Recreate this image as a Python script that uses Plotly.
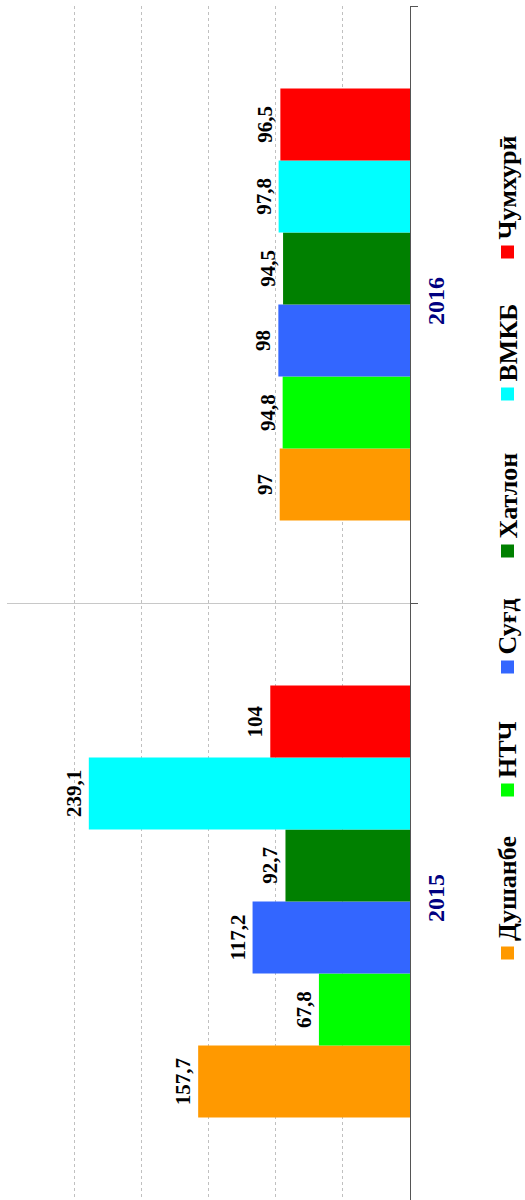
import plotly.graph_objects as go

# data
years = ["2015", "2016"]
regions = ["Душанбе", "НТЧ", "Суғд", "Хатлон", "ВМКБ", "Чумхурӣ"]
dushanbe = [157.7, 97]
ntch = [67.8, 94.8]
sughd = [117.2, 98]
khatlon = [92.7, 94.5]
vmkb = [239.1, 97.8]
jumhuri = [104, 96.5]

series = [dushanbe, ntch, sughd, khatlon, vmkb, jumhuri]
colors = ["#FF9900", "#00FF00", "#3366FF", "#008000", "#00FFFF", "#FF0000"]

W, H = 525, 1200
ML, MR, MT, MB = 7, 115, 6, 0
PW, PH = W - ML - MR, H - MT - MB


def px_x(x):
    return (x - ML) / PW


def px_y(y):
    return (H - MB - y) / PH


FONT = "Liberation Serif"

fig = go.Figure()
for name, vals, col in zip(regions, series, colors):
    fig.add_trace(go.Bar(
        y=years, x=vals, name=name, orientation="h",
        marker=dict(color=col, line=dict(width=0)),
        text=[f"{v:g}".replace(".", ",") for v in vals],
        textposition="outside", textangle=-90, cliponaxis=False,
        constraintext="none",
        textfont=dict(family=FONT, size=21, color="black", weight="bold"),
        showlegend=False,
    ))

# rotated legend (pixel positions of marker centres, bottom to top)
legend_pos_px = [953, 790, 667, 551, 394, 252]
leg_x = 507.5
shapes = []
annots = []
for name, col, yc in zip(regions, colors, legend_pos_px):
    shapes.append(dict(type="rect", xref="paper", yref="paper",
                       x0=px_x(leg_x - 6.5), x1=px_x(leg_x + 6.5),
                       y0=px_y(yc + 6.5), y1=px_y(yc - 6.5),
                       fillcolor=col, line=dict(width=0)))
    annots.append(dict(xref="paper", yref="paper", x=px_x(leg_x), y=px_y(yc - 11),
                       text=name, showarrow=False, textangle=-90,
                       xanchor="center", yanchor="bottom", borderpad=0,
                       font=dict(family=FONT, size=26, color="black", weight="bold")))

fig.update_layout(
    width=W, height=H,
    margin=dict(l=ML, r=MR, t=MT, b=MB),
    paper_bgcolor="white", plot_bgcolor="white",
    barmode="group", bargap=0.276, bargroupgap=0,
    shapes=shapes, annotations=annots,
    xaxis=dict(range=[300, 0], dtick=50, showticklabels=False, showgrid=True,
               gridcolor="#c0c0c0", griddash="dot", gridwidth=1, zeroline=False),
    yaxis=dict(type="category", categoryorder="array", categoryarray=years,
               side="right", showline=True, linecolor="#555555", linewidth=1,
               ticks="outside", ticklen=7, tickcolor="#555555", tickson="boundaries",
               showgrid=True, gridcolor="#c8c8c8", tickangle=-90, ticklabelstandoff=4,
               tickfont=dict(family=FONT, size=24, color="#000080", weight="bold")),
)

fig.write_html("out.html", config={"displayModeBar": False},
               post_script="document.body.style.margin = '0';")
